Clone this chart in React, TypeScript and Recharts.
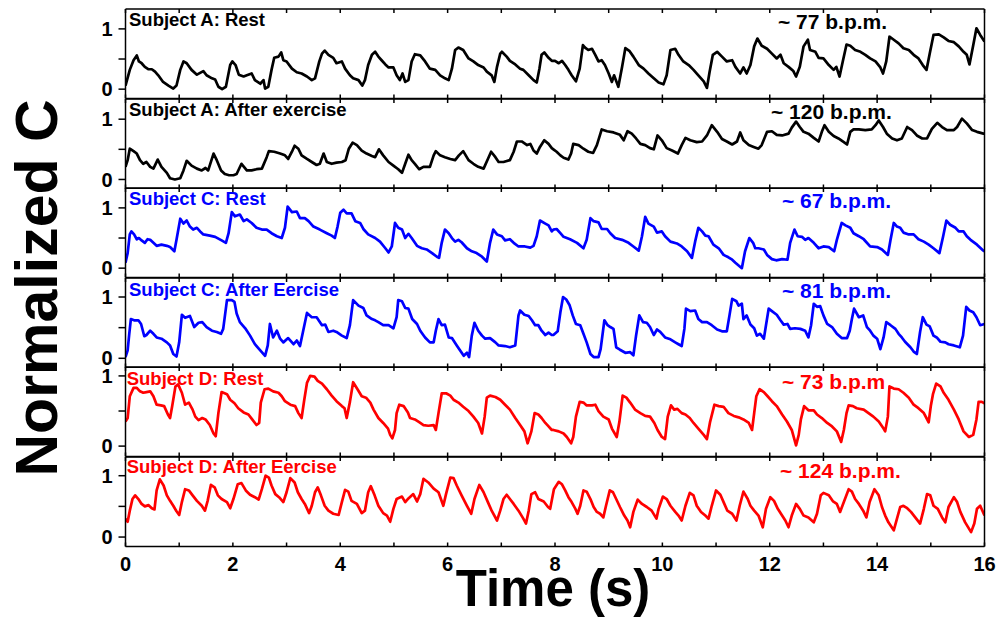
import React from "react";
import { LineChart, Line, XAxis, YAxis } from "recharts";

// ---- data (time in s, normalized capacitance) ----
const subjectARest: [number, number][] = [
  [0, 0.06], [0.08, 0.32], [0.15, 0.48], [0.21, 0.56], [0.25, 0.46], [0.3, 0.43], [0.36, 0.37], [0.43, 0.33], [0.49, 0.33], [0.55, 0.29],
  [0.61, 0.23], [0.7, 0.12], [0.8, 0.06], [0.89, 0.01], [0.95, 0.06], [1.02, 0.32], [1.08, 0.46], [1.14, 0.43], [1.23, 0.32], [1.33, 0.24],
  [1.45, 0.3], [1.51, 0.23], [1.61, 0.18], [1.67, 0.16], [1.73, 0.04], [1.8, 0], [1.87, 0.04], [1.95, 0.4], [1.99, 0.46], [2.05, 0.4],
  [2.11, 0.24], [2.2, 0.21], [2.26, 0.23], [2.35, 0.26], [2.41, 0.15], [2.51, 0.09], [2.57, 0.15], [2.6, 0.01], [2.66, 0.04], [2.72, 0.32],
  [2.77, 0.52], [2.85, 0.54], [2.9, 0.61], [2.94, 0.48], [3.0, 0.46], [3.1, 0.34], [3.19, 0.28], [3.28, 0.26], [3.38, 0.21], [3.47, 0.15],
  [3.53, 0.18], [3.61, 0.46], [3.66, 0.59], [3.71, 0.64], [3.78, 0.57], [3.87, 0.52], [3.93, 0.43], [4.03, 0.46], [4.09, 0.34], [4.18, 0.23],
  [4.24, 0.18], [4.34, 0.15], [4.41, 0.06], [4.46, 0.15], [4.52, 0.4], [4.59, 0.57], [4.65, 0.62], [4.71, 0.54], [4.77, 0.48], [4.84, 0.41],
  [4.9, 0.36], [4.99, 0.36], [5.05, 0.23], [5.11, 0.15], [5.16, 0.26], [5.21, 0.12], [5.27, 0.15], [5.33, 0.46], [5.39, 0.58], [5.49, 0.56],
  [5.58, 0.46], [5.67, 0.34], [5.77, 0.32], [5.86, 0.23], [5.95, 0.18], [6.02, 0.15], [6.08, 0.34], [6.14, 0.65], [6.2, 0.69], [6.29, 0.65],
  [6.39, 0.51], [6.48, 0.46], [6.57, 0.4], [6.67, 0.36], [6.73, 0.29], [6.82, 0.23], [6.87, 0.12], [6.92, 0.37], [6.98, 0.59], [7.01, 0.62],
  [7.1, 0.54], [7.16, 0.47], [7.26, 0.41], [7.35, 0.34], [7.41, 0.32], [7.51, 0.23], [7.6, 0.15], [7.66, 0.11], [7.71, 0.34], [7.75, 0.57],
  [7.8, 0.61], [7.88, 0.52], [7.94, 0.47], [8.0, 0.47], [8.07, 0.43], [8.13, 0.47], [8.19, 0.4], [8.25, 0.32], [8.31, 0.23], [8.39, 0.13],
  [8.46, 0.34], [8.52, 0.73], [8.56, 0.69], [8.62, 0.65], [8.69, 0.67], [8.75, 0.57], [8.81, 0.46], [8.87, 0.48], [8.93, 0.4], [9.0, 0.26],
  [9.06, 0.12], [9.1, 0.23], [9.18, 0.04], [9.25, 0.37], [9.31, 0.68], [9.39, 0.63], [9.46, 0.54], [9.56, 0.4], [9.65, 0.34], [9.74, 0.26],
  [9.84, 0.18], [9.93, 0.11], [10.02, 0.08], [10.08, 0.23], [10.15, 0.65], [10.24, 0.67], [10.3, 0.57], [10.39, 0.46], [10.49, 0.4], [10.58, 0.32],
  [10.67, 0.23], [10.77, 0.13], [10.83, 0.02], [10.88, 0.29], [10.94, 0.57], [11.02, 0.62], [11.11, 0.54], [11.2, 0.46], [11.3, 0.48], [11.36, 0.37],
  [11.45, 0.26], [11.51, 0.36], [11.57, 0.26], [11.64, 0.4], [11.71, 0.71], [11.77, 0.84], [11.85, 0.72], [11.95, 0.67], [12.04, 0.59], [12.13, 0.51],
  [12.2, 0.57], [12.26, 0.43], [12.35, 0.37], [12.44, 0.3], [12.49, 0.21], [12.56, 0.37], [12.63, 0.71], [12.71, 0.82], [12.75, 0.65], [12.85, 0.62],
  [12.91, 0.52], [13.0, 0.51], [13.1, 0.4], [13.19, 0.32], [13.24, 0.37], [13.3, 0.21], [13.36, 0.46], [13.43, 0.74], [13.5, 0.72], [13.59, 0.65],
  [13.69, 0.62], [13.78, 0.57], [13.87, 0.51], [13.97, 0.46], [14.06, 0.36], [14.11, 0.26], [14.17, 0.46], [14.23, 0.87], [14.31, 0.82], [14.4, 0.76],
  [14.49, 0.68], [14.59, 0.65], [14.68, 0.57], [14.77, 0.51], [14.85, 0.4], [14.92, 0.32], [14.98, 0.59], [15.05, 0.9], [15.15, 0.91], [15.24, 0.86],
  [15.33, 0.8], [15.43, 0.78], [15.52, 0.71], [15.61, 0.62], [15.67, 0.57], [15.72, 0.41], [15.79, 0.73], [15.85, 1.01], [15.92, 0.9], [16.0, 0.79],
];

const subjectAExercise: [number, number][] = [
  [0, 0.21], [0.04, 0.32], [0.08, 0.51], [0.15, 0.47], [0.21, 0.43], [0.27, 0.32], [0.33, 0.26], [0.39, 0.29], [0.46, 0.21], [0.52, 0.18],
  [0.6, 0.33], [0.67, 0.21], [0.77, 0.11], [0.83, 0.02], [0.92, 0], [1.02, 0.02], [1.08, 0.15], [1.14, 0.31], [1.23, 0.23], [1.33, 0.18],
  [1.42, 0.15], [1.49, 0.19], [1.54, 0.15], [1.64, 0.43], [1.7, 0.32], [1.78, 0.15], [1.85, 0.09], [1.93, 0.07], [2.01, 0.07], [2.07, 0.09],
  [2.16, 0.26], [2.26, 0.15], [2.35, 0.15], [2.44, 0.17], [2.54, 0.18], [2.63, 0.37], [2.67, 0.47], [2.77, 0.46], [2.88, 0.43], [2.97, 0.4],
  [3.03, 0.34], [3.1, 0.46], [3.15, 0.56], [3.22, 0.51], [3.28, 0.4], [3.38, 0.34], [3.47, 0.29], [3.56, 0.24], [3.62, 0.26], [3.69, 0.43],
  [3.75, 0.29], [3.84, 0.26], [3.93, 0.28], [4.03, 0.29], [4.1, 0.32], [4.16, 0.51], [4.23, 0.61], [4.31, 0.57], [4.4, 0.48], [4.49, 0.43],
  [4.59, 0.39], [4.65, 0.37], [4.72, 0.5], [4.8, 0.4], [4.9, 0.29], [4.99, 0.23], [5.08, 0.17], [5.15, 0.11], [5.21, 0.26], [5.27, 0.41],
  [5.33, 0.32], [5.39, 0.26], [5.47, 0.17], [5.55, 0.21], [5.67, 0.21], [5.74, 0.4], [5.78, 0.47], [5.86, 0.4], [5.95, 0.37], [6.05, 0.34],
  [6.14, 0.32], [6.21, 0.4], [6.29, 0.47], [6.39, 0.32], [6.48, 0.26], [6.57, 0.21], [6.67, 0.18], [6.75, 0.34], [6.81, 0.46], [6.89, 0.37],
  [6.95, 0.29], [7.04, 0.29], [7.16, 0.32], [7.23, 0.46], [7.29, 0.63], [7.38, 0.63], [7.48, 0.57], [7.54, 0.59], [7.6, 0.48], [7.66, 0.43],
  [7.72, 0.54], [7.8, 0.65], [7.88, 0.59], [7.94, 0.52], [7.97, 0.5], [8.03, 0.46], [8.1, 0.4], [8.16, 0.36], [8.25, 0.33], [8.3, 0.43],
  [8.34, 0.59], [8.44, 0.57], [8.53, 0.51], [8.62, 0.46], [8.71, 0.44], [8.78, 0.57], [8.87, 0.83], [8.97, 0.8], [9.09, 0.78], [9.21, 0.74],
  [9.28, 0.65], [9.35, 0.8], [9.43, 0.76], [9.51, 0.68], [9.59, 0.59], [9.68, 0.57], [9.77, 0.52], [9.84, 0.5], [9.91, 0.73], [9.99, 0.65],
  [10.08, 0.52], [10.18, 0.48], [10.29, 0.43], [10.36, 0.57], [10.43, 0.69], [10.52, 0.65], [10.64, 0.62], [10.74, 0.63], [10.83, 0.73], [10.92, 0.9],
  [11.02, 0.79], [11.11, 0.67], [11.2, 0.63], [11.3, 0.58], [11.39, 0.63], [11.45, 0.78], [11.51, 0.65], [11.61, 0.57], [11.7, 0.54], [11.79, 0.51],
  [11.85, 0.57], [11.95, 0.79], [12.04, 0.8], [12.13, 0.74], [12.23, 0.73], [12.35, 0.76], [12.41, 0.86], [12.49, 0.96], [12.56, 0.87], [12.63, 0.79],
  [12.72, 0.76], [12.82, 0.69], [12.91, 0.63], [12.97, 0.79], [13.02, 0.9], [13.1, 0.79], [13.19, 0.72], [13.28, 0.68], [13.38, 0.62], [13.44, 0.58],
  [13.5, 0.79], [13.56, 0.83], [13.66, 0.83], [13.78, 0.82], [13.9, 0.83], [13.97, 0.9], [14.03, 0.98], [14.11, 0.87], [14.18, 0.76], [14.28, 0.68],
  [14.37, 0.65], [14.46, 0.68], [14.56, 0.87], [14.65, 0.82], [14.74, 0.73], [14.84, 0.68], [14.93, 0.68], [15.02, 0.84], [15.12, 0.94], [15.21, 0.87],
  [15.3, 0.82], [15.43, 0.82], [15.49, 0.87], [15.58, 1.01], [15.67, 0.93], [15.77, 0.82], [15.86, 0.79], [15.98, 0.76], [16.0, 0.76],
];

const subjectCRest: [number, number][] = [
  [0, 0.09], [0.04, 0.25], [0.08, 0.56], [0.11, 0.61], [0.16, 0.56], [0.21, 0.48], [0.25, 0.5], [0.3, 0.46], [0.36, 0.42], [0.41, 0.48],
  [0.46, 0.47], [0.52, 0.42], [0.58, 0.37], [0.67, 0.39], [0.77, 0.37], [0.83, 0.35], [0.91, 0.28], [0.95, 0.47], [1.02, 0.82], [1.08, 0.74],
  [1.14, 0.79], [1.2, 0.69], [1.26, 0.64], [1.33, 0.67], [1.39, 0.61], [1.45, 0.56], [1.57, 0.54], [1.67, 0.52], [1.79, 0.46], [1.87, 0.42],
  [1.92, 0.58], [1.98, 0.93], [2.04, 0.86], [2.13, 0.89], [2.2, 0.78], [2.26, 0.81], [2.35, 0.75], [2.44, 0.67], [2.54, 0.64], [2.63, 0.64],
  [2.72, 0.58], [2.82, 0.53], [2.91, 0.5], [2.97, 0.67], [3.02, 1.02], [3.1, 0.93], [3.19, 0.94], [3.25, 0.83], [3.34, 0.83], [3.41, 0.78],
  [3.5, 0.69], [3.62, 0.64], [3.75, 0.58], [3.84, 0.54], [3.9, 0.5], [3.95, 0.69], [4.0, 0.92], [4.06, 0.97], [4.12, 0.91], [4.21, 0.91],
  [4.28, 0.78], [4.37, 0.75], [4.43, 0.65], [4.52, 0.56], [4.65, 0.5], [4.74, 0.44], [4.84, 0.33], [4.9, 0.26], [4.96, 0.36], [5.02, 0.75],
  [5.08, 0.67], [5.15, 0.64], [5.21, 0.5], [5.27, 0.57], [5.33, 0.5], [5.43, 0.37], [5.52, 0.33], [5.61, 0.31], [5.71, 0.25], [5.8, 0.19],
  [5.84, 0.17], [5.89, 0.42], [5.95, 0.64], [6.02, 0.58], [6.08, 0.5], [6.14, 0.44], [6.2, 0.47], [6.26, 0.43], [6.36, 0.33], [6.45, 0.28],
  [6.54, 0.25], [6.64, 0.19], [6.73, 0.11], [6.79, 0.42], [6.85, 0.64], [6.92, 0.56], [7.01, 0.53], [7.07, 0.46], [7.16, 0.48], [7.23, 0.42],
  [7.32, 0.36], [7.44, 0.36], [7.54, 0.34], [7.6, 0.37], [7.66, 0.53], [7.72, 0.79], [7.82, 0.74], [7.88, 0.71], [7.94, 0.61], [7.97, 0.64],
  [8.03, 0.65], [8.1, 0.58], [8.16, 0.52], [8.28, 0.48], [8.41, 0.42], [8.53, 0.33], [8.59, 0.47], [8.66, 0.83], [8.72, 0.78], [8.81, 0.76],
  [8.87, 0.65], [8.97, 0.65], [9.03, 0.58], [9.12, 0.5], [9.25, 0.47], [9.37, 0.42], [9.46, 0.36], [9.56, 0.29], [9.62, 0.53], [9.68, 0.85],
  [9.74, 0.74], [9.84, 0.69], [9.9, 0.59], [9.99, 0.61], [10.05, 0.53], [10.15, 0.44], [10.27, 0.41], [10.36, 0.36], [10.46, 0.28], [10.55, 0.17],
  [10.61, 0.44], [10.67, 0.67], [10.74, 0.61], [10.8, 0.54], [10.86, 0.53], [10.95, 0.39], [11.05, 0.33], [11.14, 0.22], [11.23, 0.18], [11.3, 0.14],
  [11.36, 0.09], [11.48, 0], [11.54, 0.28], [11.62, 0.5], [11.69, 0.42], [11.73, 0.33], [11.79, 0.33], [11.89, 0.31], [11.95, 0.22], [12.04, 0.15],
  [12.12, 0.13], [12.23, 0.15], [12.33, 0.14], [12.38, 0.42], [12.46, 0.64], [12.52, 0.53], [12.6, 0.52], [12.66, 0.47], [12.72, 0.5], [12.82, 0.42],
  [12.91, 0.33], [13.0, 0.36], [13.1, 0.35], [13.2, 0.28], [13.25, 0.47], [13.34, 0.75], [13.41, 0.71], [13.5, 0.67], [13.56, 0.58], [13.66, 0.53],
  [13.75, 0.48], [13.87, 0.36], [14.0, 0.35], [14.09, 0.31], [14.2, 0.22], [14.25, 0.47], [14.31, 0.75], [14.37, 0.69], [14.43, 0.67], [14.49, 0.59],
  [14.59, 0.56], [14.68, 0.56], [14.77, 0.48], [14.87, 0.44], [14.96, 0.39], [15.05, 0.33], [15.16, 0.25], [15.23, 0.53], [15.29, 0.79], [15.36, 0.72],
  [15.46, 0.67], [15.52, 0.61], [15.61, 0.61], [15.67, 0.53], [15.74, 0.47], [15.86, 0.39], [15.98, 0.29], [16.0, 0.28],
];

const subjectCExercise: [number, number][] = [
  [0, 0.02], [0.04, 0.13], [0.07, 0.4], [0.1, 0.64], [0.16, 0.62], [0.24, 0.62], [0.29, 0.56], [0.35, 0.36], [0.39, 0.38], [0.46, 0.45],
  [0.52, 0.4], [0.58, 0.34], [0.67, 0.32], [0.77, 0.26], [0.83, 0.21], [0.89, 0.07], [0.95, 0.03], [1.0, 0.26], [1.05, 0.71], [1.11, 0.66],
  [1.2, 0.69], [1.28, 0.51], [1.36, 0.58], [1.43, 0.59], [1.51, 0.51], [1.61, 0.45], [1.7, 0.43], [1.78, 0.4], [1.82, 0.48], [1.89, 0.95],
  [1.98, 0.95], [2.03, 0.92], [2.07, 0.73], [2.13, 0.59], [2.23, 0.49], [2.32, 0.37], [2.41, 0.23], [2.51, 0.13], [2.6, 0.04], [2.65, 0.21],
  [2.69, 0.56], [2.75, 0.34], [2.82, 0.45], [2.88, 0.32], [2.94, 0.26], [3.03, 0.33], [3.13, 0.23], [3.19, 0.29], [3.25, 0.2], [3.31, 0.45],
  [3.38, 0.74], [3.47, 0.67], [3.56, 0.67], [3.66, 0.54], [3.72, 0.55], [3.78, 0.43], [3.87, 0.45], [3.93, 0.43], [4.03, 0.37], [4.12, 0.33],
  [4.18, 0.54], [4.24, 0.95], [4.34, 0.86], [4.43, 0.82], [4.49, 0.7], [4.59, 0.64], [4.65, 0.62], [4.71, 0.59], [4.8, 0.54], [4.9, 0.54],
  [4.99, 0.49], [5.05, 0.67], [5.08, 0.95], [5.15, 0.93], [5.21, 0.82], [5.27, 0.81], [5.34, 0.64], [5.43, 0.56], [5.49, 0.45], [5.58, 0.34],
  [5.67, 0.26], [5.74, 0.26], [5.78, 0.45], [5.83, 0.64], [5.89, 0.54], [5.95, 0.55], [6.02, 0.34], [6.08, 0.33], [6.17, 0.21], [6.23, 0.13],
  [6.3, 0.04], [6.36, 0.09], [6.4, 0.02], [6.45, 0.37], [6.5, 0.58], [6.57, 0.45], [6.64, 0.37], [6.7, 0.32], [6.79, 0.33], [6.89, 0.26],
  [6.95, 0.21], [7.07, 0.2], [7.16, 0.18], [7.26, 0.21], [7.32, 0.7], [7.35, 0.78], [7.43, 0.71], [7.51, 0.69], [7.57, 0.62], [7.63, 0.54],
  [7.69, 0.54], [7.75, 0.45], [7.82, 0.38], [7.88, 0.42], [7.94, 0.38], [7.97, 0.38], [8.05, 0.44], [8.1, 0.75], [8.15, 1.0], [8.21, 0.96],
  [8.27, 0.87], [8.33, 0.7], [8.39, 0.56], [8.47, 0.54], [8.53, 0.4], [8.59, 0.26], [8.66, 0.07], [8.72, 0.02], [8.81, 0.02], [8.85, 0.15],
  [8.92, 0.62], [8.98, 0.54], [9.03, 0.51], [9.09, 0.48], [9.14, 0.18], [9.21, 0.14], [9.31, 0.09], [9.4, 0.1], [9.46, 0.05], [9.51, 0.37],
  [9.57, 0.7], [9.64, 0.59], [9.71, 0.58], [9.77, 0.51], [9.84, 0.38], [9.9, 0.47], [9.96, 0.43], [10.05, 0.34], [10.15, 0.31], [10.24, 0.26],
  [10.3, 0.23], [10.36, 0.2], [10.41, 0.48], [10.44, 0.81], [10.52, 0.77], [10.61, 0.78], [10.67, 0.64], [10.74, 0.59], [10.83, 0.59], [10.92, 0.54],
  [11.02, 0.47], [11.11, 0.44], [11.2, 0.44], [11.25, 0.7], [11.3, 0.97], [11.38, 0.93], [11.42, 0.86], [11.48, 0.89], [11.51, 0.64], [11.57, 0.7],
  [11.64, 0.55], [11.71, 0.49], [11.76, 0.37], [11.82, 0.4], [11.89, 0.32], [11.93, 0.54], [11.98, 0.81], [12.04, 0.77], [12.13, 0.71], [12.2, 0.62],
  [12.26, 0.55], [12.33, 0.56], [12.38, 0.48], [12.47, 0.49], [12.57, 0.48], [12.66, 0.45], [12.72, 0.34], [12.77, 0.54], [12.82, 0.89], [12.88, 0.84],
  [12.94, 0.85], [13.0, 0.7], [13.07, 0.56], [13.16, 0.51], [13.25, 0.4], [13.34, 0.33], [13.44, 0.33], [13.49, 0.45], [13.53, 0.64], [13.57, 0.81],
  [13.66, 0.67], [13.74, 0.7], [13.81, 0.51], [13.87, 0.45], [13.93, 0.37], [14.0, 0.32], [14.06, 0.15], [14.12, 0.34], [14.17, 0.59], [14.25, 0.54],
  [14.34, 0.48], [14.4, 0.4], [14.46, 0.34], [14.52, 0.27], [14.62, 0.18], [14.68, 0.11], [14.74, 0.07], [14.8, 0.43], [14.85, 0.67], [14.92, 0.55],
  [14.98, 0.52], [15.05, 0.37], [15.11, 0.34], [15.18, 0.27], [15.27, 0.26], [15.33, 0.23], [15.43, 0.21], [15.54, 0.18], [15.6, 0.37], [15.66, 0.84],
  [15.72, 0.78], [15.79, 0.75], [15.85, 0.67], [15.92, 0.54], [16.0, 0.56],
];

const subjectDRest: [number, number][] = [
  [0, 0.35], [0.04, 0.4], [0.08, 0.71], [0.15, 0.83], [0.21, 0.83], [0.27, 0.78], [0.33, 0.76], [0.39, 0.77], [0.46, 0.78], [0.52, 0.71],
  [0.58, 0.59], [0.66, 0.58], [0.72, 0.57], [0.79, 0.45], [0.83, 0.4], [0.87, 0.57], [0.93, 0.85], [0.98, 0.88], [1.05, 0.76], [1.11, 0.59],
  [1.18, 0.62], [1.25, 0.52], [1.3, 0.42], [1.36, 0.37], [1.43, 0.4], [1.49, 0.38], [1.57, 0.3], [1.64, 0.18], [1.68, 0.14], [1.73, 0.47],
  [1.79, 0.77], [1.89, 0.74], [1.95, 0.66], [2.03, 0.61], [2.1, 0.54], [2.2, 0.48], [2.29, 0.45], [2.36, 0.38], [2.44, 0.3], [2.49, 0.33],
  [2.52, 0.62], [2.59, 0.81], [2.66, 0.82], [2.75, 0.78], [2.85, 0.76], [2.91, 0.71], [2.97, 0.64], [3.07, 0.59], [3.16, 0.57], [3.22, 0.47],
  [3.28, 0.4], [3.33, 0.66], [3.38, 0.9], [3.44, 1.0], [3.52, 0.99], [3.58, 0.93], [3.66, 0.89], [3.75, 0.81], [3.84, 0.72], [3.93, 0.64],
  [4.03, 0.57], [4.08, 0.54], [4.12, 0.4], [4.18, 0.63], [4.24, 0.91], [4.33, 0.8], [4.4, 0.71], [4.48, 0.69], [4.56, 0.62], [4.62, 0.52],
  [4.71, 0.4], [4.8, 0.33], [4.89, 0.25], [4.93, 0.16], [4.97, 0.11], [5.02, 0.23], [5.05, 0.47], [5.1, 0.59], [5.18, 0.57], [5.26, 0.48],
  [5.3, 0.4], [5.39, 0.38], [5.47, 0.34], [5.55, 0.3], [5.64, 0.29], [5.74, 0.3], [5.78, 0.23], [5.83, 0.47], [5.89, 0.75], [5.98, 0.75],
  [6.05, 0.72], [6.11, 0.66], [6.2, 0.62], [6.29, 0.56], [6.39, 0.5], [6.48, 0.42], [6.57, 0.33], [6.64, 0.18], [6.69, 0.42], [6.73, 0.69],
  [6.79, 0.72], [6.89, 0.7], [6.98, 0.66], [7.07, 0.59], [7.16, 0.52], [7.26, 0.4], [7.35, 0.3], [7.43, 0.21], [7.49, 0.04], [7.56, 0.21],
  [7.62, 0.47], [7.69, 0.45], [7.75, 0.4], [7.82, 0.33], [7.88, 0.28], [7.94, 0.23], [7.97, 0.23], [8.07, 0.21], [8.16, 0.18], [8.22, 0.13],
  [8.3, 0.04], [8.34, 0.13], [8.39, 0.42], [8.46, 0.63], [8.53, 0.62], [8.59, 0.58], [8.69, 0.58], [8.75, 0.59], [8.81, 0.5], [8.9, 0.42],
  [9.0, 0.38], [9.06, 0.25], [9.15, 0.13], [9.2, 0.35], [9.26, 0.72], [9.33, 0.69], [9.4, 0.62], [9.49, 0.52], [9.59, 0.47], [9.68, 0.43],
  [9.77, 0.42], [9.85, 0.33], [9.91, 0.23], [9.99, 0.13], [10.05, 0.1], [10.1, 0.42], [10.16, 0.58], [10.22, 0.52], [10.28, 0.53], [10.36, 0.47],
  [10.43, 0.45], [10.51, 0.4], [10.58, 0.33], [10.67, 0.25], [10.77, 0.16], [10.83, 0.1], [10.89, 0.35], [10.97, 0.59], [11.05, 0.57], [11.14, 0.56],
  [11.23, 0.47], [11.33, 0.43], [11.42, 0.41], [11.51, 0.38], [11.61, 0.33], [11.67, 0.23], [11.71, 0.47], [11.75, 0.71], [11.81, 0.81], [11.89, 0.77],
  [11.96, 0.71], [12.04, 0.64], [12.13, 0.57], [12.23, 0.45], [12.32, 0.35], [12.41, 0.23], [12.49, 0.01], [12.54, 0.16], [12.58, 0.38], [12.64, 0.57],
  [12.72, 0.51], [12.82, 0.51], [12.88, 0.45], [12.97, 0.4], [13.07, 0.33], [13.16, 0.28], [13.25, 0.21], [13.33, 0.06], [13.38, 0.23], [13.43, 0.47],
  [13.47, 0.58], [13.55, 0.57], [13.62, 0.54], [13.75, 0.52], [13.84, 0.47], [13.93, 0.42], [14.03, 0.35], [14.12, 0.25], [14.15, 0.21], [14.2, 0.42],
  [14.23, 0.85], [14.31, 0.82], [14.4, 0.81], [14.49, 0.76], [14.59, 0.69], [14.68, 0.59], [14.77, 0.54], [14.87, 0.47], [14.96, 0.34], [15.0, 0.57],
  [15.04, 0.74], [15.1, 0.89], [15.18, 0.85], [15.24, 0.76], [15.33, 0.66], [15.43, 0.52], [15.52, 0.38], [15.61, 0.21], [15.71, 0.13], [15.79, 0.16],
  [15.85, 0.38], [15.89, 0.63], [15.95, 0.63], [16.0, 0.61],
];

const subjectDExercise: [number, number][] = [
  [0, 0.3], [0.04, 0.25], [0.08, 0.43], [0.13, 0.62], [0.18, 0.68], [0.24, 0.62], [0.3, 0.54], [0.36, 0.5], [0.43, 0.52], [0.49, 0.47],
  [0.54, 0.45], [0.58, 0.76], [0.64, 0.94], [0.71, 0.84], [0.77, 0.68], [0.83, 0.59], [0.89, 0.51], [0.95, 0.42], [1.0, 0.36], [1.05, 0.57],
  [1.11, 0.78], [1.18, 0.76], [1.25, 0.68], [1.33, 0.59], [1.42, 0.51], [1.48, 0.43], [1.53, 0.59], [1.59, 0.85], [1.66, 0.81], [1.72, 0.68],
  [1.79, 0.62], [1.89, 0.57], [1.95, 0.47], [2.01, 0.62], [2.09, 0.86], [2.16, 0.88], [2.24, 0.76], [2.32, 0.69], [2.41, 0.65], [2.48, 0.61],
  [2.54, 0.78], [2.61, 1.0], [2.67, 0.97], [2.72, 0.84], [2.79, 0.7], [2.86, 0.65], [2.94, 0.57], [3.0, 0.73], [3.07, 0.96], [3.15, 0.89],
  [3.21, 0.73], [3.28, 0.62], [3.34, 0.54], [3.42, 0.39], [3.47, 0.51], [3.53, 0.73], [3.58, 0.81], [3.64, 0.68], [3.71, 0.51], [3.78, 0.43],
  [3.87, 0.38], [3.97, 0.36], [4.03, 0.57], [4.09, 0.77], [4.15, 0.74], [4.21, 0.59], [4.31, 0.54], [4.4, 0.39], [4.46, 0.43], [4.52, 0.73],
  [4.57, 0.83], [4.64, 0.68], [4.71, 0.51], [4.8, 0.39], [4.87, 0.35], [4.93, 0.25], [4.99, 0.46], [5.05, 0.62], [5.15, 0.66], [5.21, 0.57],
  [5.27, 0.63], [5.36, 0.7], [5.43, 0.58], [5.49, 0.7], [5.55, 0.95], [5.64, 0.89], [5.74, 0.79], [5.83, 0.73], [5.92, 0.51], [5.97, 0.7],
  [6.05, 0.97], [6.11, 0.96], [6.17, 0.84], [6.26, 0.68], [6.36, 0.51], [6.44, 0.38], [6.5, 0.62], [6.59, 0.85], [6.67, 0.73], [6.75, 0.57],
  [6.82, 0.43], [6.92, 0.27], [6.98, 0.43], [7.04, 0.62], [7.1, 0.69], [7.16, 0.62], [7.23, 0.54], [7.32, 0.43], [7.41, 0.3], [7.46, 0.22],
  [7.51, 0.43], [7.56, 0.7], [7.63, 0.73], [7.69, 0.62], [7.79, 0.58], [7.87, 0.49], [7.91, 0.46], [7.98, 0.78], [8.07, 0.9], [8.13, 0.86],
  [8.19, 0.76], [8.25, 0.65], [8.31, 0.57], [8.38, 0.46], [8.42, 0.38], [8.47, 0.51], [8.53, 0.76], [8.59, 0.74], [8.66, 0.62], [8.72, 0.49],
  [8.78, 0.41], [8.84, 0.38], [8.9, 0.32], [8.95, 0.51], [9.02, 0.76], [9.08, 0.73], [9.14, 0.62], [9.21, 0.49], [9.29, 0.35], [9.35, 0.27],
  [9.4, 0.16], [9.46, 0.41], [9.54, 0.61], [9.62, 0.54], [9.71, 0.49], [9.8, 0.43], [9.89, 0.3], [9.93, 0.46], [10.01, 0.66], [10.08, 0.62],
  [10.15, 0.51], [10.24, 0.41], [10.3, 0.35], [10.36, 0.27], [10.43, 0.51], [10.51, 0.72], [10.58, 0.68], [10.64, 0.51], [10.72, 0.41], [10.8, 0.35],
  [10.86, 0.3], [10.92, 0.51], [11.0, 0.76], [11.08, 0.69], [11.14, 0.57], [11.21, 0.43], [11.3, 0.38], [11.38, 0.27], [11.44, 0.51], [11.51, 0.74],
  [11.59, 0.62], [11.64, 0.51], [11.71, 0.43], [11.79, 0.35], [11.87, 0.16], [11.93, 0.46], [12.01, 0.65], [12.08, 0.59], [12.15, 0.46], [12.23, 0.35],
  [12.29, 0.27], [12.35, 0.16], [12.41, 0.35], [12.49, 0.54], [12.56, 0.46], [12.63, 0.35], [12.72, 0.32], [12.82, 0.24], [12.88, 0.38], [12.95, 0.68],
  [13.0, 0.72], [13.1, 0.68], [13.18, 0.58], [13.25, 0.54], [13.31, 0.41], [13.38, 0.57], [13.47, 0.78], [13.53, 0.74], [13.59, 0.62], [13.66, 0.54],
  [13.74, 0.43], [13.8, 0.32], [13.86, 0.57], [13.95, 0.78], [14.03, 0.68], [14.09, 0.49], [14.15, 0.35], [14.21, 0.24], [14.31, 0.11], [14.37, 0.3],
  [14.43, 0.49], [14.49, 0.51], [14.56, 0.47], [14.63, 0.41], [14.71, 0.32], [14.8, 0.22], [14.87, 0.46], [14.93, 0.7], [14.99, 0.68], [15.05, 0.51],
  [15.13, 0.46], [15.21, 0.32], [15.27, 0.24], [15.33, 0.49], [15.43, 0.65], [15.49, 0.57], [15.55, 0.41], [15.64, 0.24], [15.75, 0.08], [15.81, 0.22],
  [15.86, 0.46], [15.92, 0.51], [16.0, 0.35],
];

const panelTitles = [
  "Subject A: Rest",
  "Subject A: After exercise",
  "Subject C: Rest",
  "Subject C: After Eercise",
  "Subject D: Rest",
  "Subject D: After Eercise",
];
const heartRates = ["~ 77 b.p.m.", "~ 120 b.p.m.", "~ 67 b.p.m.", "~ 81 b.p.m.", "~ 73 b.p.m", "~ 124 b.p.m."];
const xTicks = [0, 1, 2, 3, 4, 5, 6, 7, 8, 9, 10, 11, 12, 13, 14, 15, 16];
const yTicks = [0, 0.5, 1];

const series = [subjectARest, subjectAExercise, subjectCRest, subjectCExercise, subjectDRest, subjectDExercise];

// ---- layout ----
const FONT = '"Liberation Sans", Arial, Helvetica, sans-serif';
const W = 1001;
const H = 628;
const PLOT_LEFT = 125.5;
const PLOT_RIGHT = 984.5;
const Y_AXIS_W = 60;
const EDGE = 1; // size given to the label-less frame axes
const PANEL_H = 89.5;
const colors = ["#000000", "#000000", "#0000ff", "#0000ff", "#ff0000", "#ff0000"];
const panelTops = [9, 98.5, 188, 277.5, 367, 456.5];
const yDomains: [number, number][] = [
  [-0.155, 1.33],
  [-0.15, 1.335],
  [-0.155, 1.33],
  [-0.15, 1.31],
  [-0.148, 1.127],
  [-0.154, 1.305],
];
const titlePos = [
  [129, 25.7], [129, 115.7], [129, 205.3], [129, 295.7], [126.7, 384.7], [126.7, 472.7],
];
const ratePos = [
  [778, 29], [771, 118.7], [782, 207.7], [782, 297.7], [782, 389], [780, 478],
];

const axisStroke = { stroke: "#000000", strokeWidth: 1.5 };

function Panel({ idx }: { idx: number }) {
  const last = idx === series.length - 1;
  const bottomH = last ? 60 : EDGE;
  const data = series[idx].map(([t, v]) => ({ t, v }));
  return (
    <div style={{ position: "absolute", left: 0, top: panelTops[idx] - EDGE }}>
      <LineChart
        width={W}
        height={PANEL_H + EDGE + bottomH}
        data={data}
        margin={{ top: 0, right: W - PLOT_RIGHT - EDGE, bottom: 0, left: PLOT_LEFT - Y_AXIS_W }}
      >
        <XAxis
          xAxisId="b"
          dataKey="t"
          type="number"
          domain={[0, 16]}
          allowDataOverflow
          ticks={xTicks}
          interval={0}
          height={bottomH}
          stroke="#000000"
          tickSize={-4}
          tickMargin={14}
          axisLine={axisStroke}
          tickLine={axisStroke}
          tick={{ fontSize: 20, fontWeight: "bold", fill: "#000000", fontFamily: FONT }}
          tickFormatter={(v: number) => (last && v % 2 === 0 ? String(v) : "")}
        />
        <XAxis
          xAxisId="t"
          orientation="top"
          dataKey="t"
          type="number"
          domain={[0, 16]}
          allowDataOverflow
          ticks={xTicks}
          interval={0}
          height={EDGE}
          stroke="#000000"
          tickSize={-4}
          axisLine={axisStroke}
          tickLine={axisStroke}
          tickFormatter={() => ""}
        />
        <YAxis
          yAxisId="l"
          type="number"
          domain={yDomains[idx]}
          allowDataOverflow
          ticks={yTicks}
          interval={0}
          width={Y_AXIS_W}
          stroke="#000000"
          tickSize={7}
          tickMargin={6}
          axisLine={axisStroke}
          tickLine={axisStroke}
          tick={{ fontSize: 20, fontWeight: "bold", fill: "#000000", fontFamily: FONT }}
          tickFormatter={(v: number) => (v === 0.5 ? "" : String(v))}
        />
        <YAxis
          yAxisId="r"
          orientation="right"
          type="number"
          domain={yDomains[idx]}
          allowDataOverflow
          width={EDGE}
          stroke="#000000"
          ticks={yTicks}
          tickSize={0}
          tickLine={false}
          axisLine={axisStroke}
          tickFormatter={() => ""}
        />
        <Line
          xAxisId="b"
          yAxisId="l"
          type="linear"
          dataKey="v"
          stroke={colors[idx]}
          strokeWidth={2.7}
          strokeLinejoin="round"
          dot={false}
          activeDot={false}
          isAnimationActive={false}
        />
      </LineChart>
    </div>
  );
}

export default function App() {
  return (
    <div style={{ position: "absolute", left: 0, top: 0, width: W, height: H, background: "#fff", overflow: "hidden" }}>
      {series.map((_, i) => (
        <Panel key={i} idx={i} />
      ))}
      <svg
        width={W}
        height={H}
        style={{ position: "absolute", left: 0, top: 0, pointerEvents: "none" }}
        fontFamily={FONT}
        fontWeight="bold"
      >
        {panelTitles.map((s, i) => (
          <text key={"t" + i} x={titlePos[i][0]} y={titlePos[i][1]} fontSize={18.5} fill={colors[i]}>
            {s}
          </text>
        ))}
        {heartRates.map((s, i) => (
          <text key={"r" + i} x={ratePos[i][0]} y={ratePos[i][1]} fontSize={21} fill={colors[i]}>
            {s}
          </text>
        ))}
        <text x={553} y={606} fontSize={51} textAnchor="middle" fill="#000">
          Time (s)
        </text>
        <text transform="translate(57, 288) rotate(-90)" fontSize={59} textAnchor="middle" fill="#000">
          Normalized C
        </text>
      </svg>
    </div>
  );
}
